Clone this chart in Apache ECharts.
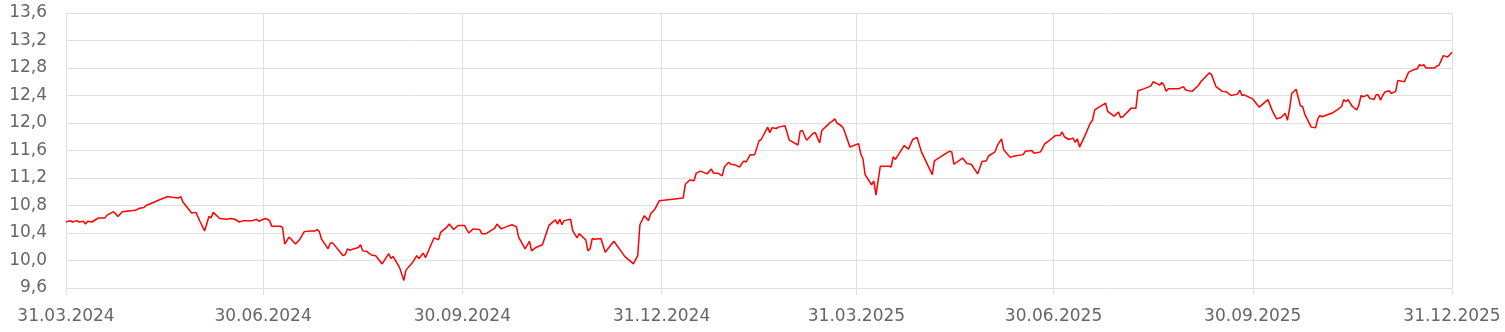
<!DOCTYPE html>
<html>
<head>
<meta charset="utf-8">
<script src="https://cdn.jsdelivr.net/npm/echarts@6/dist/echarts.min.js"></script>
<style>html,body{margin:0;padding:0;background:#fff}#c{width:1505px;height:332px}</style>
</head>
<body>
<div id="c"></div>
<script>
var dates = [
'2024-03-31','2024-04-02','2024-04-03','2024-04-05','2024-04-06','2024-04-08','2024-04-09','2024-04-10','2024-04-12','2024-04-14',
'2024-04-15','2024-04-18','2024-04-19','2024-04-22','2024-04-24','2024-04-26','2024-05-02','2024-05-04','2024-05-06','2024-05-07',
'2024-05-10','2024-05-13','2024-05-17','2024-05-19','2024-05-22','2024-05-23','2024-05-24','2024-05-26','2024-05-28','2024-05-30',
'2024-06-01','2024-06-03','2024-06-05','2024-06-06','2024-06-07','2024-06-10','2024-06-13','2024-06-15','2024-06-17','2024-06-19',
'2024-06-21','2024-06-25','2024-06-27','2024-06-28','2024-07-01','2024-07-02','2024-07-03','2024-07-04','2024-07-08','2024-07-09',
'2024-07-10','2024-07-12','2024-07-13','2024-07-15','2024-07-17','2024-07-19','2024-07-22','2024-07-24','2024-07-25','2024-07-26',
'2024-07-27','2024-07-30','2024-07-31','2024-08-01','2024-08-06','2024-08-07','2024-08-08','2024-08-09','2024-08-11','2024-08-13',
'2024-08-14','2024-08-15','2024-08-17','2024-08-19','2024-08-21','2024-08-24','2024-08-27','2024-08-28','2024-08-29','2024-09-01',
'2024-09-03','2024-09-04','2024-09-07','2024-09-09','2024-09-10','2024-09-12','2024-09-13','2024-09-15','2024-09-17','2024-09-19',
'2024-09-20','2024-09-23','2024-09-24','2024-09-26','2024-09-28','2024-10-01','2024-10-03','2024-10-05','2024-10-08','2024-10-09',
'2024-10-11','2024-10-15','2024-10-16','2024-10-18','2024-10-21','2024-10-23','2024-10-25','2024-10-26','2024-10-29','2024-10-31',
'2024-11-01','2024-11-03','2024-11-06','2024-11-09','2024-11-12','2024-11-13','2024-11-14','2024-11-15','2024-11-16','2024-11-19',
'2024-11-20','2024-11-22','2024-11-23','2024-11-26','2024-11-27','2024-11-28','2024-11-29','2024-11-30','2024-12-03','2024-12-05',
'2024-12-09','2024-12-14','2024-12-18','2024-12-20','2024-12-21','2024-12-23','2024-12-25','2024-12-26','2024-12-28','2024-12-30',
'2025-01-10','2025-01-11','2025-01-13','2025-01-15','2025-01-16','2025-01-18','2025-01-21','2025-01-23','2025-01-24','2025-01-26',
'2025-01-28','2025-01-29','2025-01-31','2025-02-01','2025-02-03','2025-02-05','2025-02-07','2025-02-08','2025-02-10','2025-02-12',
'2025-02-14','2025-02-15','2025-02-18','2025-02-19','2025-02-20','2025-02-22','2025-02-23','2025-02-26','2025-02-28','2025-03-04',
'2025-03-05','2025-03-06','2025-03-08','2025-03-11','2025-03-12','2025-03-14','2025-03-15','2025-03-18','2025-03-19','2025-03-20',
'2025-03-21','2025-03-22','2025-03-24','2025-03-25','2025-03-28','2025-04-01','2025-04-02','2025-04-03','2025-04-04','2025-04-07',
'2025-04-08','2025-04-09','2025-04-11','2025-04-15','2025-04-16','2025-04-17','2025-04-18','2025-04-22','2025-04-24','2025-04-26',
'2025-04-28','2025-04-30','2025-05-05','2025-05-06','2025-05-09','2025-05-13','2025-05-14','2025-05-15','2025-05-19','2025-05-21',
'2025-05-23','2025-05-26','2025-05-28','2025-05-30','2025-05-31','2025-06-03','2025-06-04','2025-06-06','2025-06-07','2025-06-10',
'2025-06-12','2025-06-16','2025-06-17','2025-06-20','2025-06-21','2025-06-24','2025-06-26','2025-06-27','2025-07-01','2025-07-03',
'2025-07-04','2025-07-05','2025-07-07','2025-07-09','2025-07-10','2025-07-11','2025-07-12','2025-07-14','2025-07-17','2025-07-18',
'2025-07-19','2025-07-24','2025-07-25','2025-07-28','2025-07-30','2025-07-31','2025-08-01','2025-08-05','2025-08-07','2025-08-08',
'2025-08-11','2025-08-14','2025-08-15','2025-08-17','2025-08-18','2025-08-19','2025-08-20','2025-08-21','2025-08-22','2025-08-27',
'2025-08-29','2025-08-30','2025-09-02','2025-09-04','2025-09-05','2025-09-06','2025-09-10','2025-09-11','2025-09-13','2025-09-16',
'2025-09-18','2025-09-20','2025-09-23','2025-09-24','2025-09-25','2025-09-26','2025-09-30','2025-10-03','2025-10-07','2025-10-09',
'2025-10-11','2025-10-13','2025-10-15','2025-10-16','2025-10-17','2025-10-18','2025-10-20','2025-10-22','2025-10-23','2025-10-24',
'2025-10-27','2025-10-29','2025-10-30','2025-10-31','2025-11-01','2025-11-06','2025-11-08','2025-11-10','2025-11-11','2025-11-12',
'2025-11-13','2025-11-15','2025-11-17','2025-11-18','2025-11-19','2025-11-20','2025-11-22','2025-11-23','2025-11-25','2025-11-26',
'2025-11-27','2025-11-28','2025-11-29','2025-11-30','2025-12-02','2025-12-03','2025-12-05','2025-12-06','2025-12-09','2025-12-11',
'2025-12-13','2025-12-15','2025-12-16','2025-12-17','2025-12-18','2025-12-19','2025-12-23','2025-12-24','2025-12-25','2025-12-27',
'2025-12-29','2025-12-31'
];
var values = [
10.56,10.58,10.56,10.58,10.56,10.57,10.53,10.57,10.56,10.60,
10.62,10.62,10.66,10.71,10.64,10.71,10.73,10.76,10.77,10.80,
10.84,10.88,10.93,10.92,10.91,10.93,10.85,10.77,10.69,10.70,
10.56,10.43,10.64,10.62,10.70,10.61,10.60,10.61,10.60,10.56,
10.58,10.58,10.60,10.57,10.61,10.60,10.58,10.50,10.50,10.48,
10.24,10.34,10.31,10.24,10.31,10.42,10.43,10.43,10.45,10.42,
10.31,10.17,10.25,10.26,10.07,10.09,10.17,10.15,10.17,10.19,
10.23,10.14,10.13,10.08,10.07,9.95,10.10,10.03,10.06,9.90,
9.71,9.86,9.97,10.07,10.03,10.11,10.04,10.19,10.33,10.30,
10.41,10.49,10.53,10.45,10.51,10.51,10.40,10.46,10.45,10.39,
10.39,10.47,10.53,10.46,10.50,10.52,10.49,10.34,10.17,10.28,
10.14,10.19,10.23,10.51,10.59,10.53,10.60,10.52,10.58,10.60,
10.43,10.33,10.39,10.30,10.14,10.17,10.32,10.31,10.32,10.12,
10.28,10.06,9.95,10.07,10.52,10.65,10.58,10.68,10.75,10.87,
10.91,11.11,11.17,11.16,11.27,11.30,11.26,11.33,11.27,11.27,
11.23,11.36,11.43,11.40,11.39,11.36,11.45,11.43,11.54,11.54,
11.74,11.76,11.94,11.86,11.93,11.92,11.94,11.96,11.75,11.68,
11.88,11.89,11.75,11.85,11.86,11.71,11.89,11.98,12.01,12.03,
12.06,12.00,11.96,11.92,11.65,11.70,11.55,11.48,11.25,11.10,
11.16,10.95,11.37,11.37,11.36,11.51,11.47,11.67,11.62,11.76,
11.79,11.58,11.25,11.45,11.51,11.59,11.58,11.40,11.49,11.41,
11.40,11.26,11.44,11.45,11.52,11.58,11.67,11.77,11.61,11.50,
11.52,11.54,11.59,11.60,11.56,11.58,11.70,11.72,11.82,11.82,
11.87,11.80,11.76,11.78,11.72,11.77,11.65,11.78,12.00,12.04,
12.19,12.29,12.17,12.10,12.16,12.08,12.09,12.22,12.21,12.47,
12.50,12.54,12.60,12.57,12.55,12.59,12.55,12.46,12.50,12.50,
12.53,12.48,12.46,12.52,12.55,12.60,12.73,12.70,12.53,12.46,
12.45,12.40,12.42,12.48,12.40,12.41,12.35,12.23,12.34,12.18,
12.06,12.08,12.14,12.04,12.21,12.43,12.49,12.25,12.24,12.13,
11.94,11.93,12.06,12.11,12.09,12.15,12.19,12.24,12.34,12.31,
12.34,12.24,12.19,12.26,12.40,12.38,12.41,12.36,12.34,12.41,
12.41,12.33,12.40,12.45,12.47,12.43,12.46,12.62,12.60,12.74,
12.77,12.79,12.85,12.83,12.85,12.80,12.80,12.83,12.84,12.98,
12.96,13.03
];
var tickDates = ['2024-03-31','2024-06-30','2024-09-30','2024-12-31','2025-03-31','2025-06-30','2025-09-30','2025-12-31'];

var P = function (s) { return echarts.time.parse(s).getTime(); };
var tickTs = tickDates.map(P);
var seriesData = dates.map(function (d, i) { return [P(d), values[i]]; });
function pad(n) { return (n < 10 ? '0' : '') + n; }

var gridColor = '#e0e0e0';
var chart = echarts.init(document.getElementById('c'), null, { renderer: 'canvas' });
chart.setOption({
  animation: false,
  backgroundColor: '#ffffff',
  grid: { left: 66, right: 53, top: 13, bottom: 44, containLabel: false },
  xAxis: {
    type: 'value',
    min: tickTs[0],
    max: tickTs[tickTs.length - 1],
    axisLine: { show: false },
    axisTick: { show: true, customValues: tickTs, length: 7, lineStyle: { color: gridColor, width: 1 } },
    splitLine: { show: true, lineStyle: { color: gridColor, width: 1 } },
    axisLabel: {
      customValues: tickTs,
      showMinLabel: true, showMaxLabel: true, hideOverlap: false,
      margin: 20,
      color: '#666666',
      fontFamily: 'DejaVu Sans',
      fontSize: 17,
      formatter: function (v) {
        var d = new Date(v);
        return pad(d.getDate()) + '.' + pad(d.getMonth() + 1) + '.' + d.getFullYear();
      }
    }
  },
  yAxis: {
    type: 'value',
    min: 9.6, max: 13.6, interval: 0.4,
    axisLine: { show: false },
    axisTick: { show: false },
    splitLine: { show: true, lineStyle: { color: gridColor, width: 1 } },
    axisLabel: {
      margin: 19,
      color: '#666666',
      fontFamily: 'DejaVu Sans',
      fontSize: 17,
      formatter: function (v) { return v.toFixed(1).replace('.', ','); }
    }
  },
  series: [{
    type: 'line',
    data: seriesData,
    showSymbol: false,
    symbol: 'none',
    lineStyle: { color: '#ff0000', width: 1.5 },
    itemStyle: { color: '#ff0000' }
  }]
});
</script>
</body>
</html>
